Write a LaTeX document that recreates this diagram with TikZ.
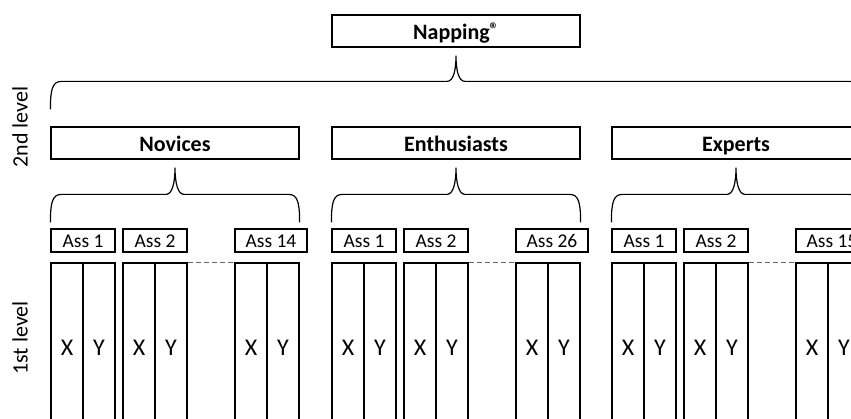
\documentclass[tikz,border=0pt]{standalone}
\usepackage{fontspec}
\setmainfont{Carlito}
\usetikzlibrary{calc}
\newcommand{\curlyb}[3]{%
  \draw[bracestyle] let \p1=(#1), \p2=(#2), \p3=(#3) in
    (\x1,\y1) .. controls (\x1,\y1+20pt) and (\x1+2pt,\y1+28pt) .. (\x1+11pt,\y1+28pt)
    -- (\x2-9pt,\y1+28pt) .. controls (\x2-3pt,\y1+28pt) and (\x2,\y2-16pt) .. (\x2,\y2)
    .. controls (\x2,\y2-16pt) and (\x2+3pt,\y1+28pt) .. (\x2+9pt,\y1+28pt)
    -- (\x3-11pt,\y3+28pt) .. controls (\x3-2pt,\y3+28pt) and (\x3,\y3+20pt) .. (\x3,\y3);}
\begin{document}
\begin{tikzpicture}[x=1pt,y=-1pt, line width=1.2pt,
  title/.style={draw, fill=white, minimum width=248pt, minimum height=32pt, inner sep=0pt,
    text height=20pt, text depth=3pt, font=\fontsize{22}{26}\selectfont\bfseries},
  ass/.style={draw, fill=white, minimum width=64pt, minimum height=23pt, inner sep=0pt,
    text height=15pt, text depth=0pt, font=\fontsize{19.5}{22}\selectfont},
  col/.style={draw, fill=white, minimum width=32pt, minimum height=170pt, inner sep=0pt,
    font=\fontsize{24}{26}\selectfont},
  lvl/.style={rotate=90, inner sep=0pt, font=\fontsize{22}{26}\selectfont},
  bracestyle/.style={draw, line width=1.2pt},
  dots/.style={draw, black!60, dash pattern=on 5pt off 3pt, line width=1pt}]
\useasboundingbox (0,0) rectangle (851,419);
\clip (0,0) rectangle (851,419);

\node[title] (nap) at (456,31) {Napping\raisebox{4pt}{\fontsize{18}{18}\selectfont ®}};
\node[title] (ng) at (175,143) {Novices};
\node[title] (eg) at (456,143) {Enthusiasts};
\node[title] (xg) at (736,143) {Experts};

\node[lvl] (l2) at (20,127) {2nd level};
\node[lvl] (l1) at (20,338) {1st level};

\foreach \g/\o/\l in {n/0/14,e/281/26,x/561/15}{
  \node[ass] (\g a1) at (83+\o,240.5) {Ass 1};
  \node[ass] (\g a2) at (155+\o,240.5) {Ass 2};
  \node[ass, minimum width=72pt] (\g a3) at (271+\o,240.5) {Ass \l};
  \foreach \k/\c in {1/67,2/139,3/251}{
    \node[col] (\g x\k) at (\c+\o,348) {X};
    \node[col] (\g y\k) at (\c+32+\o,348) {Y};
  }
  \draw[dots] (\g y2.north east) -- (\g x3.north west);
  \coordinate (\g L) at ($(\g g.south west |- \g a1.north)+(0,-6)$);
  \coordinate (\g R) at ($(\g g.south east |- \g a1.north)+(0,-6)$);
  \coordinate (\g T) at ($(\g g.south)+(0,8)$);
  \curlyb{\g L}{\g T}{\g R}
}

\coordinate (tL) at ($(ng.north west)+(0,-17)$);
\coordinate (tR) at ($(xg.north east)+(0,-17)$);
\coordinate (tT) at ($(nap.south)+(0,8)$);
\curlyb{tL}{tT}{tR}
\end{tikzpicture}
\end{document}
